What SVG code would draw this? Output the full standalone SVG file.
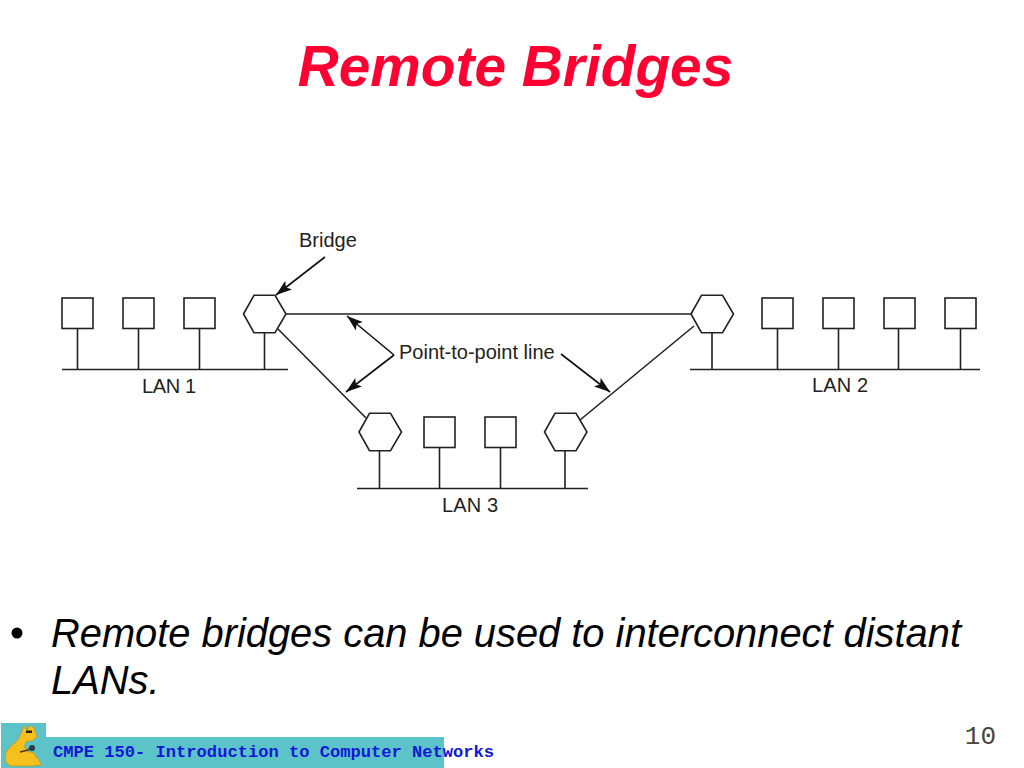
<svg xmlns="http://www.w3.org/2000/svg" width="1024" height="768" viewBox="0 0 1024 768">
<style>
.l{stroke:#222;stroke-width:1.6;fill:none}
.s{stroke:#222;stroke-width:1.6;fill:#fff}
.t{font-family:"Liberation Sans",Arial,sans-serif;font-size:20px;fill:#222}
.a{stroke:#111;stroke-width:1.6;fill:none;marker-end:url(#ah)}
</style>
<defs>
<marker id="ah" markerUnits="userSpaceOnUse" markerWidth="18" markerHeight="12" refX="16" refY="5.500" orient="auto"><path d="M0 0L16 5.500L0 11L3.500 5.500Z" fill="#111"/></marker>
<polygon id="hex" points="-21,0 -10.500,-18.700 10.500,-18.700 21.500,0 10.500,18.700 -10.500,18.700" class="s"/>
<rect id="sq" width="31" height="30.500" class="s"/>
</defs>
<rect width="1024" height="768" fill="#fff"/>
<text x="515.500" y="86" text-anchor="middle" font-family="'Liberation Sans',Arial,sans-serif" font-size="56.800" font-weight="bold" font-style="italic" fill="#ff0033">Remote Bridges</text>
<g id="connectors">
<path class="l" d="M286 314H692M278 329L366 418M694 326L580 420"/>
<path class="l" d="M62 369.500H288M690 369.500H980M357 488.500H588"/>
<path class="l" d="M77.500 328V369M138.500 328V369M199.500 328V369M264.500 333V369M712 333V369M777.500 328V369M838.500 328V369M898.500 328V369M960.500 328V369M379.500 451V488M439.500 448V488M500.500 448V488M565 451V488"/>
<path class="a" d="M325 257L276 295"/>
<path class="a" d="M394 355L347 316"/>
<path class="a" d="M394 355L346 392"/>
<path class="a" d="M561 354L610 392"/>
</g>
<g id="lan1-host1"><use href="#sq" x="62" y="298"/></g>
<g id="lan1-host2"><use href="#sq" x="123" y="298"/></g>
<g id="lan1-host3"><use href="#sq" x="184" y="298"/></g>
<g id="bridge1"><use href="#hex" x="264.500" y="314"/></g>
<g id="bridge2"><use href="#hex" x="712" y="314"/></g>
<g id="lan2-host1"><use href="#sq" x="762" y="298"/></g>
<g id="lan2-host2"><use href="#sq" x="823" y="298"/></g>
<g id="lan2-host3"><use href="#sq" x="884" y="298"/></g>
<g id="lan2-host4"><use href="#sq" x="945" y="298"/></g>
<g id="bridge3"><use href="#hex" x="380" y="432"/></g>
<g id="lan3-host1"><use href="#sq" x="424" y="417"/></g>
<g id="lan3-host2"><use href="#sq" x="485" y="417"/></g>
<g id="bridge4"><use href="#hex" x="565.500" y="432"/></g>
<text class="t" x="299" y="247">Bridge</text>
<text class="t" x="399" y="358.500">Point-to-point line</text>
<text class="t" x="142" y="392.500" textLength="54">LAN 1</text>
<text class="t" x="812" y="391.500" textLength="56">LAN 2</text>
<text class="t" x="442" y="511.500" textLength="56">LAN 3</text>
<circle cx="17" cy="633" r="5.500" fill="#000"/>
<g font-family="'Liberation Sans',Arial,sans-serif" font-size="39.850" font-style="italic" fill="#000">
<text x="51" y="646.500">Remote bridges can be used to interconnect distant</text>
<text x="51" y="694">LANs.</text>
</g>
<text x="996" y="744" text-anchor="end" font-family="'Liberation Mono',monospace" font-size="26" fill="#444">10</text>
<g id="footer">
<rect x="1" y="723" width="45" height="45" fill="#5cc4c8"/>
<rect x="46" y="737" width="398" height="31" fill="#5cc4c8"/>
<path d="M24 726L27 730L30 725L34 728L37 737L32 741L27 741L24 746L27 751L34 753L38 759L42 765L30 766H10L5 761L6 752L12 745L18 740L21 733Z" fill="#f5bf1e" stroke="#b98a10" stroke-width="0.600"/>
<rect x="26" y="730.500" width="6" height="2.500" fill="#222"/>
<path d="M20 752L28 750L32 747" stroke="#4a3a20" stroke-width="1.500" fill="none"/>
<circle cx="32" cy="748" r="3" fill="#2c3c44"/>
<text x="53" y="757" font-family="'Liberation Mono','Courier New',monospace" font-size="17.100" font-weight="bold" fill="#0f17d8">CMPE 150- Introduction to Computer Networks</text>
</g>
</svg>
